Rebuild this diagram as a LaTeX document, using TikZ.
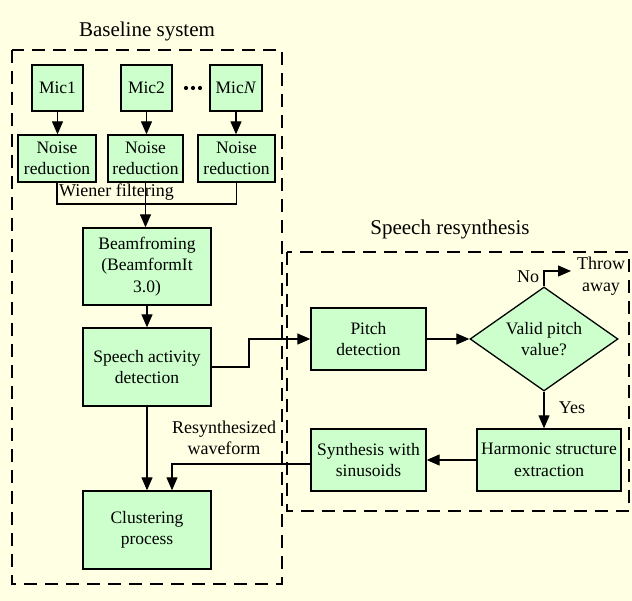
\documentclass[tikz,border=0pt]{standalone}
\usepackage{fontspec}
\setmainfont{Liberation Serif}
\usetikzlibrary{arrows.meta,shapes.geometric,calc}
\definecolor{bgcol}{HTML}{FFFFE3}
\definecolor{boxcol}{HTML}{CCFFCC}
\begin{document}
\begin{tikzpicture}[x=1pt,y=-1pt,
  every node/.style={font=\fontsize{17.5}{21.5}\selectfont},
  blk/.style={draw=black, line width=1.3pt, fill=boxcol, align=center, inner sep=0pt},
  conn/.style={line width=1.2pt},
  arr/.style={conn, -{Triangle[length=13pt,width=11pt]}},
  grp/.style={draw=black, line width=2.6pt, dash pattern=on 13pt off 8pt},
  ttl/.style={font=\fontsize{21}{25}\selectfont},
  lbl/.style={font=\fontsize{18}{21.5}\selectfont, align=center, inner sep=0pt}]
\fill[bgcol] (0,0) rectangle (632,601);
\useasboundingbox (0,0) rectangle (632,601);

% group frames
\draw[grp] (12,50) rectangle (282,584);
\draw[grp] (287,252) rectangle (629,511);
\node[ttl] (t1) at (147,31) {Baseline system};
\node[ttl] (t2) at (450,229) {Speech resynthesis};

% baseline nodes
\node[blk, minimum width=51, minimum height=46] (mic1) at (57.5,88) {Mic1};
\node[blk, minimum width=51, minimum height=46] (mic2) at (146.5,88) {Mic2};
\node[blk, minimum width=52, minimum height=46] (micN) at (236,88) {Mic\textit{N}};
\foreach \dx in {-7,0,7} \fill (193+\dx,88) circle (2.1pt);
\node[blk, minimum width=78, minimum height=47] (nr1) at (57,158.5) {Noise\\reduction};
\node[blk, minimum width=75, minimum height=47] (nr2) at (145.5,158.5) {Noise\\reduction};
\node[blk, minimum width=77, minimum height=47] (nr3) at (236.5,158.5) {Noise\\reduction};
\node[blk, minimum width=128, minimum height=77] (beam) at (147,266.5) {Beamfroming\\(BeamformIt\\3.0)};
\node[blk, minimum width=128, minimum height=78] (sad) at (147,367) {Speech activity\\detection};
\node[blk, minimum width=128, minimum height=78] (clus) at (147,530) {Clustering\\process};

% resynthesis nodes
\node[blk, minimum width=115, minimum height=62] (pitch) at (368.5,339) {Pitch\\detection};
\node[blk, shape=diamond, aspect=1.42, minimum width=148, minimum height=104] (dia) at (544,339) {Valid pitch\\value?};
\node[blk, minimum width=144, minimum height=62] (harm) at (549,460) {Harmonic structure\\extraction};
\node[blk, minimum width=115, minimum height=62] (synth) at (368.5,460) {Synthesis with\\sinusoids};

% coordinates
\coordinate (wy) at (0,204);
\coordinate (sadx) at (249,0);
\coordinate (noup) at (544,271);
\coordinate (throw) at (571,271);
\coordinate (resx) at (172,0);
\coordinate (sy) at (0,464);

% connectors
\draw[arr] (mic1.south) -- (mic1.south |- nr1.north);
\draw[arr] (mic2.south) -- (mic2.south |- nr2.north);
\draw[arr] (micN.south) -- (micN.south |- nr3.north);
\draw[conn] (nr1.south) -- (nr1.south |- wy) -- (nr3.south |- wy) -- (nr3.south);
\draw[arr] (nr2.south) -- (nr2.south |- beam.north);
\node[lbl, anchor=base west] (wl) at (59,197) {Wiener filtering};
\draw[arr] (beam.south) -- (sad.north);
\draw[arr] (sad.south) -- (clus.north);
\draw[arr] (sad.east) -- (sadx |- sad.east) -- (sadx |- pitch.west) -- (pitch.west);
\draw[arr] (pitch.east) -- (dia.west);
\draw[arr] (dia.north) -- (noup) -- (throw);
\draw[arr] (dia.south) -- (dia.south |- harm.north);
\draw[arr] (harm.west) -- (synth.east);
\draw[arr] (synth.west |- sy) -- (resx |- sy) -- (resx |- clus.north);

% labels
\node[lbl] (nol) at (528,277) {No};
\node[lbl] (thr) at (601,276) {Throw\\away};
\node[lbl] (yes) at (572,408) {Yes};
\node[lbl] (rw) at (224,438) {Resynthesized\\waveform};
\end{tikzpicture}
\end{document}
